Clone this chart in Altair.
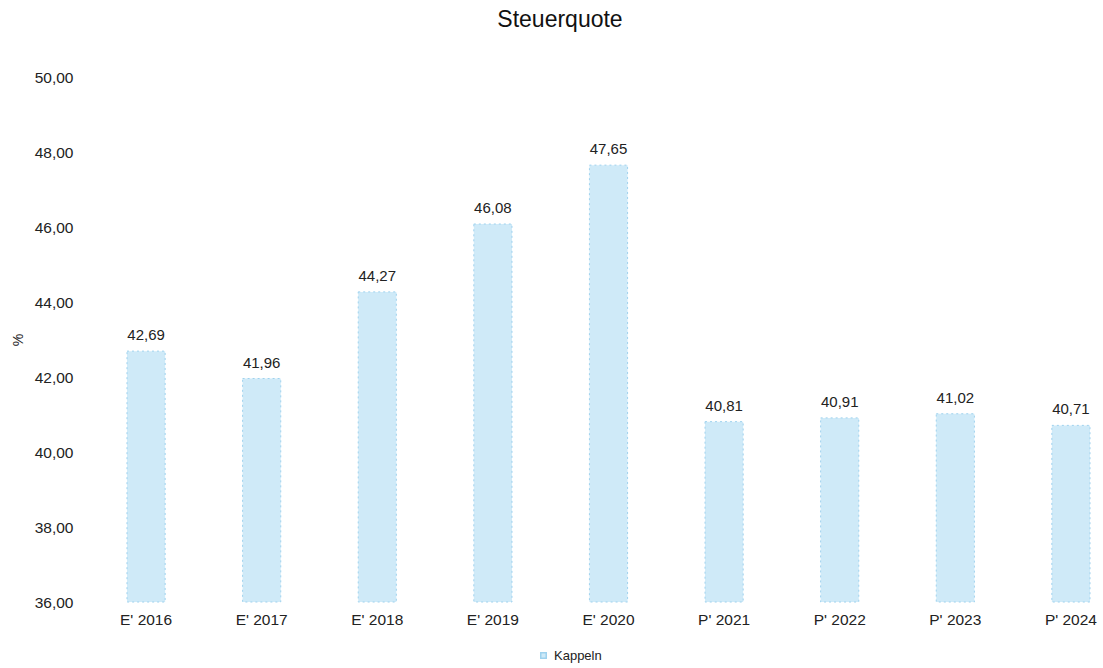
import altair as alt
import pandas as pd

categories = ["E' 2016", "E' 2017", "E' 2018", "E' 2019", "E' 2020",
              "P' 2021", "P' 2022", "P' 2023", "P' 2024"]
values = [42.69, 41.96, 44.27, 46.08, 47.65, 40.81, 40.91, 41.02, 40.71]
series = "Kappeln"
y_ticks = [36, 38, 40, 42, 44, 46, 48, 50]

df = pd.DataFrame({
    "Jahr": categories,
    "Wert": values,
    "Label": [f"{v:.2f}".replace(".", ",") for v in values],
    "Reihe": [series] * len(values),
})

FONT = "Liberation Sans"

x = alt.X("Jahr:N", sort=categories, title=None,
          scale=alt.Scale(paddingInner=0.67, paddingOuter=0.16, align=1),
          axis=alt.Axis(labelAngle=0, labelFontSize=15.5, labelFont=FONT, labelColor="#222",
                        ticks=False, domain=False, labelPadding=10))
y = alt.Y("Wert:Q", title="%",
          scale=alt.Scale(domain=[36, 50], zero=False, nice=False),
          axis=alt.Axis(values=y_ticks, grid=False, ticks=False, domain=False,
                        labelExpr="replace(format(datum.value, '.2f'), '.', ',')",
                        labelFontSize=15.5, labelFont=FONT, labelColor="#222", labelPadding=17,
                        titleFontSize=14, titleFont=FONT, titleFontWeight="normal",
                        titleColor="#222", titlePadding=9))

bars = alt.Chart(df).mark_bar(stroke="#9fd2ee", strokeWidth=1, strokeDash=[2, 3]).encode(
    x=x, y=y, y2=alt.datum(36),
    color=alt.Color("Reihe:N", scale=alt.Scale(range=["#cfeaf8"]),
                    legend=alt.Legend(title=None, orient="none", legendX=447, legendY=572,
                                      symbolType="square", symbolSize=30, labelOffset=4,
                                      labelFontSize=13, labelFont=FONT, labelColor="#222"))
)

labels = alt.Chart(df).mark_text(dy=-16, fontSize=15, font=FONT, color="#222").encode(
    x=alt.X("Jahr:N", sort=categories), y="Wert:Q", text="Label:N"
)

chart = alt.layer(bars, labels).properties(
    width=1000, height=525,
    title=alt.TitleParams("Steuerquote", fontSize=23, font=FONT, fontWeight="normal",
                          color="#111", offset=38, dx=-30),
    autosize=alt.AutoSizeParams(type="none"),
    padding={"left": 90, "top": 77, "right": 13, "bottom": 66},
).configure_view(stroke=None)

chart.save("out.html", embed_options={"renderer": "svg", "actions": False})
